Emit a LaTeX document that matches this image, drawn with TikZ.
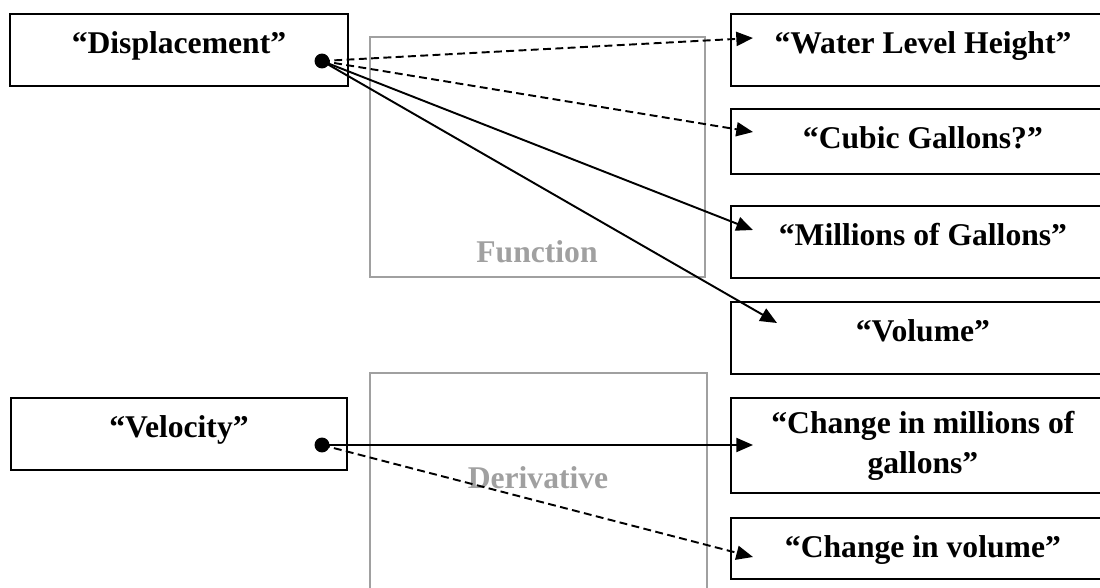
\documentclass[tikz,border=0pt]{standalone}
\usepackage{fontspec}
\setmainfont{Liberation Serif}
\usetikzlibrary{arrows.meta}
\definecolor{framegray}{RGB}{160,160,160}
\tikzset{
  termbox/.style={draw, line width=1.1pt, anchor=north west, inner sep=0pt,
            minimum width=#1, font=\bfseries\fontsize{18}{22.7}\selectfont},
  toprow/.style={text height=0.8cm, text depth=#1},
  gframe/.style={draw=framegray, line width=1pt},
  gtext/.style={text=framegray, anchor=base, font=\bfseries\fontsize{18}{22.7}\selectfont},
  blob/.style={circle, fill, inner sep=0pt, minimum size=8.5pt},
  link/.style={line width=1.1pt, -{Triangle[length=9.5pt,width=8pt]}},
  dlink/.style={link, dash pattern=on 4.5pt off 2.5pt},
}
\begin{document}
\begin{tikzpicture}[x=0.02cm, y=-0.02cm]
\useasboundingbox (0,0) rectangle (1100,588);
\draw [gframe] (370,37) rectangle (705,277);
\draw [gframe] (370,373) rectangle (707,600);
\node (fn) [gtext] at (537,262) {Function};
\node (dv) [gtext] at (538,488) {Derivative};
\node (disp) [termbox=6.76cm, toprow=0.64cm] at (9,13) {“Displacement”};
\node (velo) [termbox=6.72cm, toprow=0.64cm] at (10,397) {“Velocity”};
\node (water) [termbox=7.68cm, toprow=0.64cm] at (730,13) {“Water Level Height”};
\node (cubic) [termbox=7.68cm, toprow=0.5cm] at (730,108) {“Cubic Gallons?”};
\node (mill) [termbox=7.68cm, toprow=0.64cm] at (730,205) {“Millions of Gallons”};
\node (vol) [termbox=7.68cm, toprow=0.64cm] at (730,301) {“Volume”};
\node (chmill) [termbox=7.68cm, align=center, minimum height=1.9cm] at (730,397)
      {“Change in millions of\\gallons”};
\node (chvol) [termbox=7.68cm, toprow=0.42cm] at (730,517) {“Change in volume”};
\node (ddot) [blob] at (322,61) {};
\node (vdot) [blob] at (322,445) {};
\coordinate (twater) at (753,38);
\coordinate (tcubic) at (753,132);
\coordinate (tmill) at (753,230);
\coordinate (tvol) at (777,323);
\coordinate (tchmill) at (753,445);
\coordinate (tchvol) at (753,557);
\draw [dlink] (ddot.center) -- (twater);
\draw [dlink] (ddot.center) -- (tcubic);
\draw [link] (ddot.center) -- (tmill);
\draw [link] (ddot.center) -- (tvol);
\draw [link] (vdot.center) -- (tchmill);
\draw [dlink] (vdot.center) -- (tchvol);
\end{tikzpicture}
\end{document}
